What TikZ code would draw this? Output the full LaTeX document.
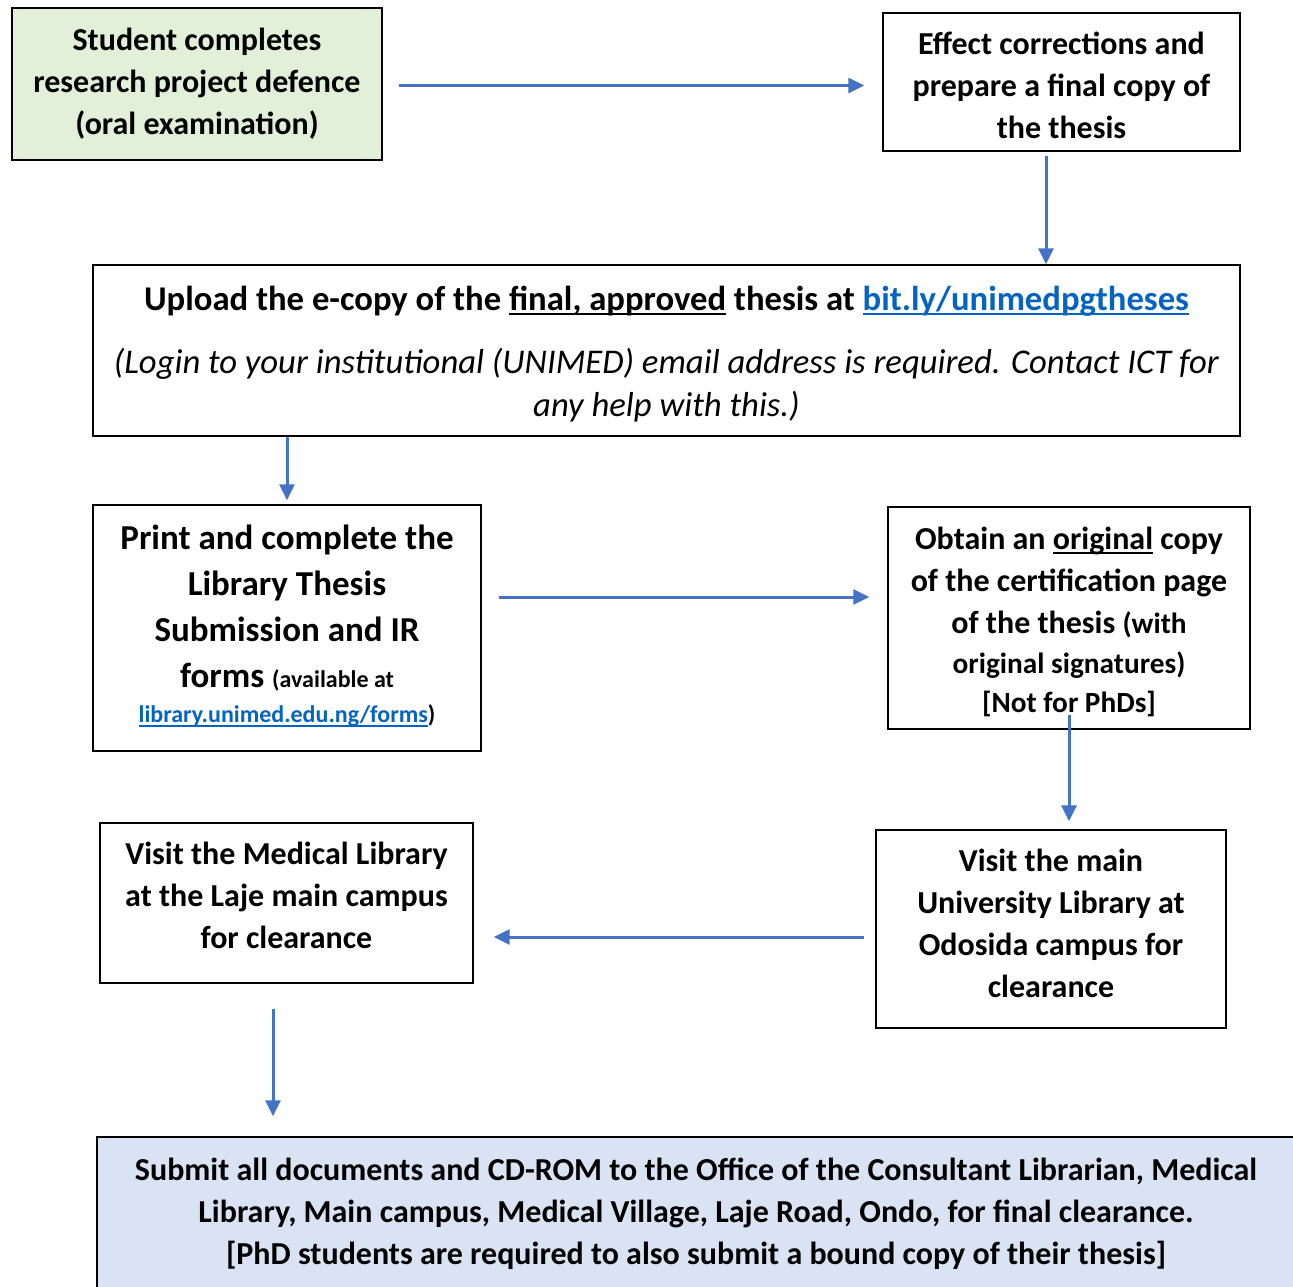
\documentclass[tikz,border=0pt]{standalone}
\usepackage{fontspec}
\setmainfont{Carlito}
\usetikzlibrary{arrows.meta,calc}
\definecolor{arrowblue}{HTML}{4472C4}
\definecolor{linkblue}{HTML}{0563C1}
\definecolor{greenfill}{HTML}{E2F0D9}
\definecolor{bluefill}{HTML}{DAE3F3}
\newcommand{\mainsz}{\fontsize{32}{42}\selectfont}
\newcommand{\smallsz}{\fontsize{29.3}{42}\selectfont}
\newsavebox{\myulbox}
\newcommand{\myul}[1]{\leavevmode\sbox{\myulbox}{#1}\rlap{\rule[-4.5pt]{\wd\myulbox}{1.8pt}}\usebox{\myulbox}}
\newcommand{\pushup}[1]{\par\vspace{#1}\hrule height 0pt width 0pt}
\begin{document}
\begin{tikzpicture}[x=1pt,y=-1pt,
  box/.style={draw=black, line width=1.3pt, align=flush center, inner sep=0pt,
    font=\bfseries\mainsz},
  flow/.style={draw=arrowblue, line width=3pt, -{Triangle[width=15pt,length=16pt]}},
]
\useasboundingbox (0,0) rectangle (1293,1287);
\clip (0,0) rectangle (1293,1287);

\node[box, fill=greenfill, minimum width=370pt, minimum height=152pt, text width=360pt] (defence) at (197,84)
  {Student completes\\research project defence\\(oral examination)};

\node[box, minimum width=357pt, minimum height=138pt, text width=350pt] (effect) at (1061.5,82)
  {Effect corrections and\\prepare a final copy of\\the thesis\pushup{-6pt}};

\node[box, minimum width=1147pt, minimum height=171pt, text width=1140pt,
      font=\bfseries\fontsize{34.67}{43}\selectfont] (upload) at (666.5,350.5)
  {Upload the e-copy of the \myul{final, approved} thesis at {\color{linkblue}\myul{bit.ly/unimedpgtheses}}\\[20pt]
   {\mdseries\itshape (Login to your institutional (UNIMED) email address is required. Contact ICT for\\any help with this.)}\pushup{-7pt}};

\node[box, minimum width=388pt, minimum height=246pt, text width=380pt,
      font=\bfseries\fontsize{35}{46}\selectfont] (print) at (287,628)
  {Print and complete the\\Library Thesis\\Submission and IR\\forms {\fontsize{24}{46}\selectfont(available at}\\[-11pt]
   {\fontsize{24}{38}\selectfont{\color{linkblue}\myul{library.unimed.edu.ng/forms}})}\pushup{5pt}};

\node[box, minimum width=362pt, minimum height=222pt, text width=355pt] (obtain) at (1069,618)
  {Obtain an \myul{original} copy\\of the certification page\\of the thesis {\smallsz(with}\\[-2pt]
   {\smallsz original signatures)}\\[-3pt]{\smallsz {[}Not for PhDs{]}}\pushup{-8pt}};

\node[box, minimum width=350pt, minimum height=198pt, text width=345pt] (visitmain) at (1051,929)
  {Visit the main\\University Library at\\Odosida campus for\\clearance\pushup{12pt}};

\node[box, minimum width=373pt, minimum height=160pt, text width=365pt] (medical) at (286.5,903)
  {Visit the Medical Library\\at the Laje main campus\\for clearance\pushup{16pt}};

\node[box, fill=bluefill, minimum width=1198pt, minimum height=153pt, text width=1190pt] (submit) at (696,1213.5)
  {Submit all documents and CD-ROM to the Office of the Consultant Librarian, Medical\\
   Library, Main campus, Medical Village, Laje Road, Ondo, for final clearance.\\
   {[}PhD students are required to also submit a bound copy of their thesis{]}};

\draw[flow, shorten <=16pt, shorten >=18pt] ([yshift=-1.5pt]defence.east) -- ([yshift=-1.5pt]defence.east -| effect.west);
\draw[flow, shorten <=4pt] ([xshift=-15.5pt]effect.south) -- ([xshift=-15.5pt]effect.south |- upload.north);
\draw[flow, shorten >=4pt] (upload.south -| print.north) -- (print.north);
\draw[flow, shorten <=17pt, shorten >=18pt] ([yshift=31pt]print.east) -- ([yshift=31pt]print.east -| obtain.west);
\draw[flow, shorten <=-15pt, shorten >=8pt] (obtain.south) -- (obtain.south |- visitmain.north);
\draw[flow, shorten <=11pt, shorten >=20pt] ([yshift=-8pt]visitmain.west) -- ([yshift=-8pt]visitmain.west -| medical.east);
\draw[flow, shorten <=25pt, shorten >=20pt] ([xshift=-13.5pt]medical.south) -- ([xshift=-13.5pt]medical.south |- submit.north);
\end{tikzpicture}
\end{document}
